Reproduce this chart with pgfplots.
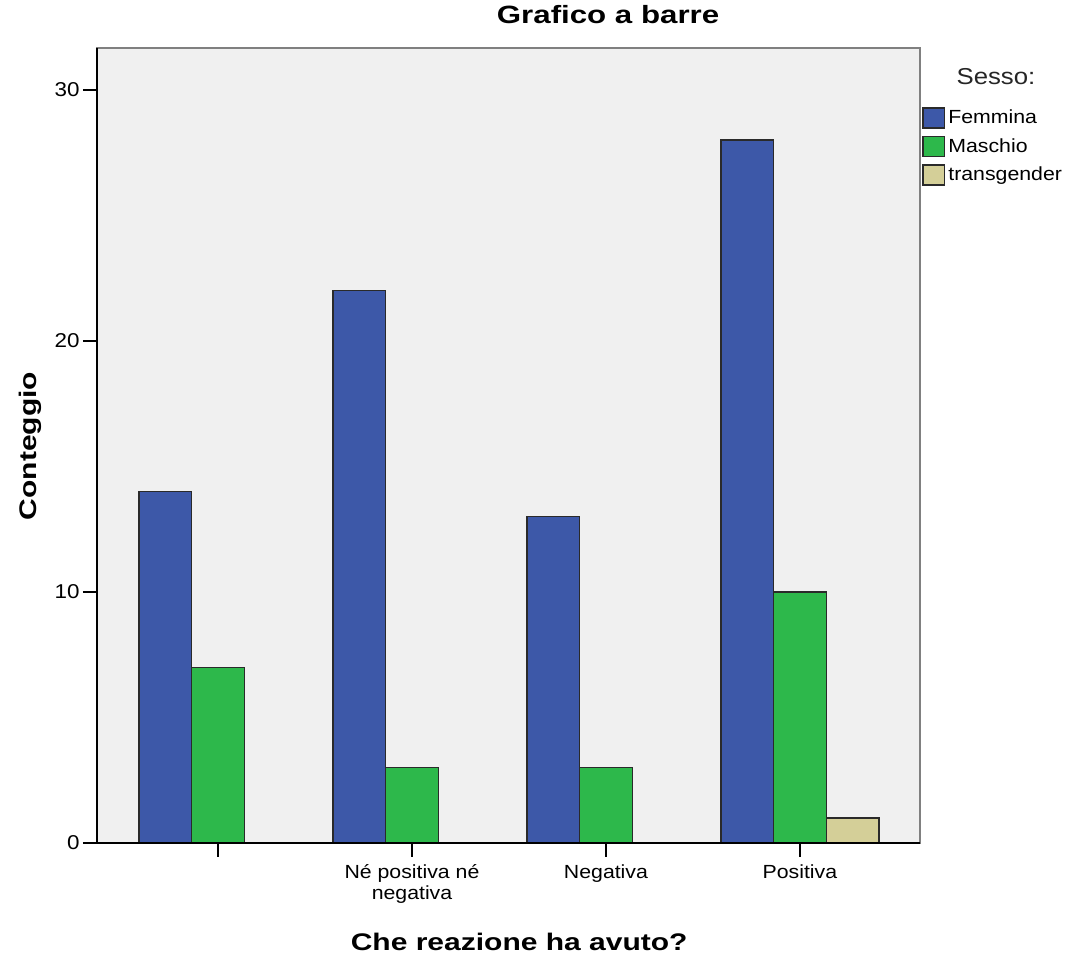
\documentclass[border=0pt]{standalone}
\usepackage{fontspec}
\setmainfont{Liberation Sans}
\newfontfamily\regf{Liberation Sans}[FakeStretch=1.12]
\newfontfamily\boldf{Liberation Sans Bold}[FakeStretch=1.25]
\usepackage{pgfplots}
\pgfplotsset{compat=1.18}
\definecolor{bgc}{HTML}{F0F0F0}
\definecolor{femc}{HTML}{3D58A8}
\definecolor{masc}{HTML}{2DB84B}
\definecolor{trac}{HTML}{D4CF98}
\definecolor{edgec}{HTML}{2A2A2A}
\definecolor{framec}{HTML}{808080}
\pgfplotsset{
  mylegend/.style={
    /pgfplots/legend image code/.code={\draw[##1, line width=1.1pt] (0pt,-7.5pt) rectangle (16pt,7.5pt);}
  }
}
\begin{document}
\begin{tikzpicture}[x=0.75pt,y=0.75pt]
\useasboundingbox (-97,-113) rectangle (979,843);
\begin{axis}[
  at={(0,0)}, anchor=south west,
  scale only axis, width=617.25pt, height=596.25pt,
  xmin=-0.624, xmax=3.619, ymin=0, ymax=31.67,
  clip=false,
  axis background/.style={fill=bgc},
  axis line style={draw=framec, line width=1.1pt},
  xtick={0,1,2,3},
  xticklabels={{},{Né positiva né\\negativa},{Negativa},{Positiva}},
  ytick={0,10,20,30},
  minor tick num=0,
  xtick pos=bottom, ytick pos=left,
  tick align=outside,
  major tick length=10.5pt,
  tick style={black, line width=1.1pt},
  xticklabel style={font=\regf\fontsize{14.25}{15.5}\selectfont, align=center, yshift=-2pt},
  yticklabel style={font=\regf\fontsize{15}{16}\selectfont, xshift=1pt},
  /pgf/number format/assume math mode=true,
  title={Grafico a barre},
  title style={at={(axis description cs:0.621,1.0314)}, anchor=center, font=\boldf\fontsize{18.75}{20}\selectfont},
  xlabel={Che reazione ha avuto?},
  xlabel style={at={(axis description cs:0.513,-0.1245)}, anchor=center, font=\boldf\fontsize{18}{20}\selectfont},
  ylabel={Conteggio},
  ylabel style={at={(axis description cs:-0.0815,0.4994)}, anchor=center, font=\boldf\fontsize{18}{20}\selectfont},
  legend style={at={(axis description cs:1.0,0.9258)}, anchor=north west, draw=none, fill=none,
    inner xsep=1.5pt, inner ysep=0pt, row sep=5.25pt,
    font=\regf\fontsize{14.25}{16}\selectfont,
    nodes={inner xsep=2.5pt, inner ysep=0pt}},
  legend cell align=left,
]
\addplot[ybar, bar width=0.2715, bar shift=-0.2715, fill=femc, draw=edgec, line width=1.1pt, mylegend]
  coordinates {(0,14) (1,22) (2,13) (3,28)};
\addlegendentry{Femmina}
\addplot[ybar, bar width=0.2715, bar shift=0, fill=masc, draw=edgec, line width=1.1pt, mylegend]
  coordinates {(0,7) (1,3) (2,3) (3,10)};
\addlegendentry{Maschio}
\addplot[ybar, bar width=0.2715, bar shift=0.2715, fill=trac, draw=edgec, line width=1.1pt, mylegend]
  coordinates {(3,1)};
\addlegendentry{transgender}
\draw[black, line width=1.3pt] (rel axis cs:0,1) -- (rel axis cs:0,0) -- (rel axis cs:1,0);
\node[font=\regf\fontsize{17.25}{20}\selectfont, text=black!85] at (axis description cs:1.0923,0.9635) {Sesso:};
\end{axis}
\end{tikzpicture}
\end{document}
